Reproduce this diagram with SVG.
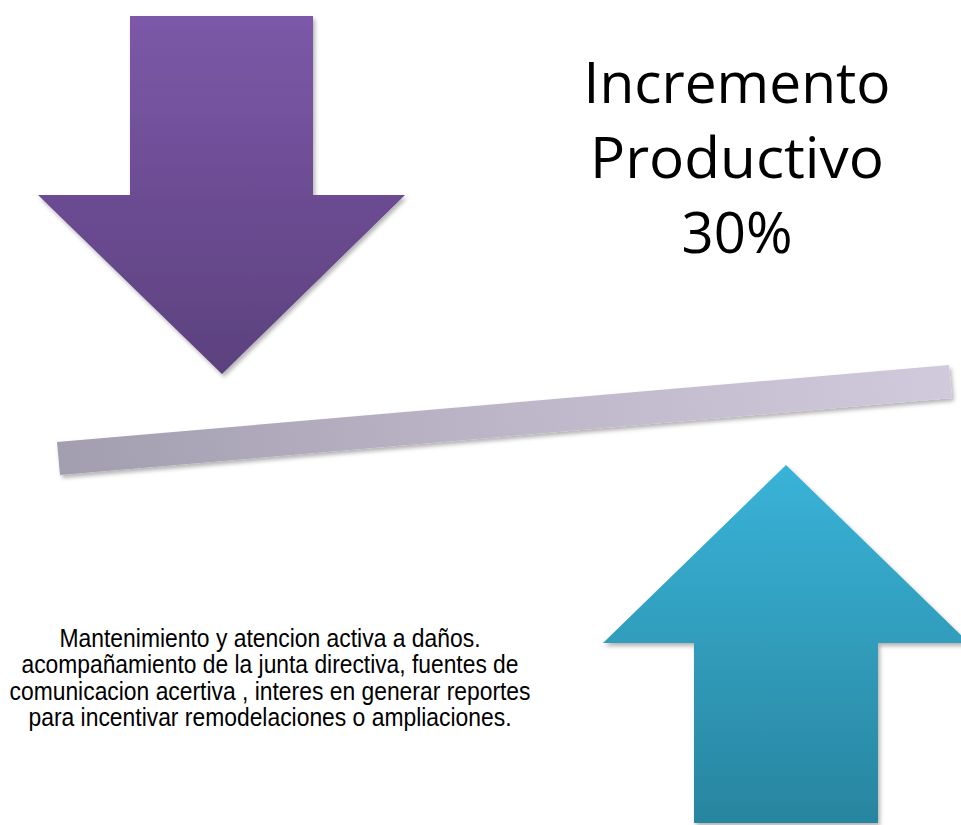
<svg xmlns="http://www.w3.org/2000/svg" width="961" height="825" viewBox="0 0 961 825">
  <defs>
    <linearGradient id="gPurple" x1="0" y1="0" x2="0" y2="1">
      <stop offset="0" stop-color="#7c58a8"/>
      <stop offset="1" stop-color="#5c417e"/>
    </linearGradient>
    <linearGradient id="gBlue" x1="0" y1="0" x2="0" y2="1">
      <stop offset="0" stop-color="#39b3d8"/>
      <stop offset="1" stop-color="#28859f"/>
    </linearGradient>
    <linearGradient id="gBar" gradientUnits="userSpaceOnUse" x1="60" y1="475" x2="950" y2="365">
      <stop offset="0" stop-color="#a39db0"/>
      <stop offset="0.5" stop-color="#bdb6c9"/>
      <stop offset="1" stop-color="#d1cadd"/>
    </linearGradient>
    <filter id="shadow" x="-10%" y="-10%" width="120%" height="130%">
      <feDropShadow dx="2" dy="3" stdDeviation="2" flood-color="#000" flood-opacity="0.3"/>
    </filter>
  </defs>
  <style>
    .title { font-family: "Open Sans", "Noto Sans", sans-serif; font-size: 57px; fill: #000; text-anchor: middle; }
    .body { font-family: "Liberation Sans", Arial, sans-serif; font-size: 25px; fill: #000; text-anchor: middle; }
  </style>
  <rect width="961" height="825" fill="#fff"/>

  <g id="arrow-down" filter="url(#shadow)">
    <polygon points="130,16 313,16 313,195 405,195 222,374 38,195 130,195" fill="url(#gPurple)"/>
  </g>

  <g id="balance-bar" filter="url(#shadow)">
    <polygon points="57,442 949,365 952,398 60,475" fill="url(#gBar)"/>
  </g>

  <g id="arrow-up" filter="url(#shadow)">
    <polygon points="786,465 969,643 878,643 878,823 694,823 694,643 603,643" fill="url(#gBlue)"/>
  </g>

  <g id="title">
    <text class="title" x="737" y="103" textLength="307" lengthAdjust="spacingAndGlyphs">Incremento</text>
    <text class="title" x="737" y="178" textLength="294" lengthAdjust="spacingAndGlyphs">Productivo</text>
    <text class="title" x="737" y="253" textLength="111" lengthAdjust="spacingAndGlyphs">30%</text>
  </g>

  <g id="description">
    <text class="body" x="270" y="647" textLength="421" lengthAdjust="spacingAndGlyphs">Mantenimiento y atencion activa a daños.</text>
    <text class="body" x="270" y="673" textLength="497" lengthAdjust="spacingAndGlyphs">acompañamiento de la junta directiva, fuentes de</text>
    <text class="body" x="270" y="700" textLength="521" lengthAdjust="spacingAndGlyphs">comunicacion acertiva , interes en generar reportes</text>
    <text class="body" x="270" y="726" textLength="483" lengthAdjust="spacingAndGlyphs">para incentivar remodelaciones o ampliaciones.</text>
  </g>
</svg>
